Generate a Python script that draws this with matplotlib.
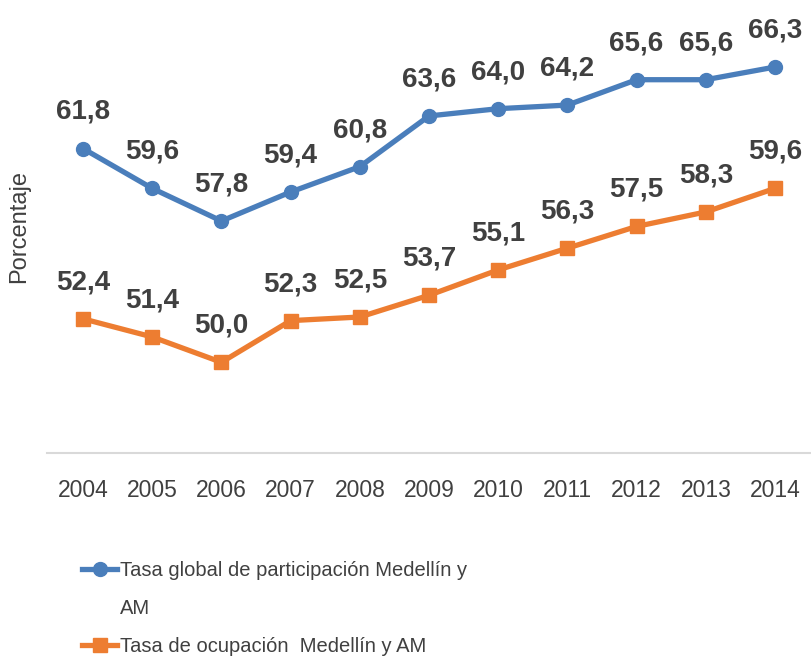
import matplotlib as mpl
import matplotlib.pyplot as plt
from matplotlib.lines import Line2D

years = ['2004', '2005', '2006', '2007', '2008', '2009', '2010', '2011', '2012', '2013', '2014']
tgp = [61.8, 59.6, 57.8, 59.4, 60.8, 63.6, 64.0, 64.2, 65.6, 65.6, 66.3]
to = [52.4, 51.4, 50.0, 52.3, 52.5, 53.7, 55.1, 56.3, 57.5, 58.3, 59.6]
names = ['Tasa global de participación Medellín y', 'AM', 'Tasa de ocupación  Medellín y AM']

plt.rcParams['font.family'] = ['Liberation Sans', 'DejaVu Sans']
grey = '#404040'

dpi = 100
fig = plt.figure(dpi=dpi, figsize=(811 / dpi, 665 / dpi))
ax = fig.add_axes([0.058, 0.319, 0.942, 0.681])

xs = list(range(len(years)))
l1, = ax.plot(xs, tgp, color='#4a7ebb', lw=3.8, marker='o', ms=10)
l2, = ax.plot(xs, to, color='#ed7d31', lw=3.8, marker='s', ms=10)

for series in (tgp, to):
	for x, v in zip(xs, series):
		ax.annotate(('%.1f' % v).replace('.', ','), (x, v), xytext=(0, 17),
			textcoords='offset points', ha='center', va='bottom',
			fontsize=20, fontweight='bold', color=grey)

ax.set_xlim(-0.52, len(years) - 0.48)
ax.set_ylim(45, 70)
ax.set_xticks(xs)
ax.set_xticklabels(years)
ax.set_yticks([])
ax.tick_params(axis='x', length=0, pad=19, labelsize=16.5, labelcolor=grey)
for s in ['top', 'right', 'left']:
	ax.spines[s].set_visible(False)
ax.spines['bottom'].set_color('#d9d9d9')
ax.spines['bottom'].set_linewidth(1.5)
ax.set_ylabel('Porcentaje', fontsize=17, color=grey, labelpad=12)

# second line of the first legend label goes on its own row with no handle
blank = Line2D([], [], linestyle='none')
leg = fig.legend([l1, blank, l2], names, loc='upper left', bbox_to_anchor=(0.089, 0.172),
	frameon=False, fontsize=14.5, handlelength=1.75, handletextpad=0.12,
	labelspacing=0.95, borderpad=0, labelcolor=grey)

fig.savefig('out.png')
